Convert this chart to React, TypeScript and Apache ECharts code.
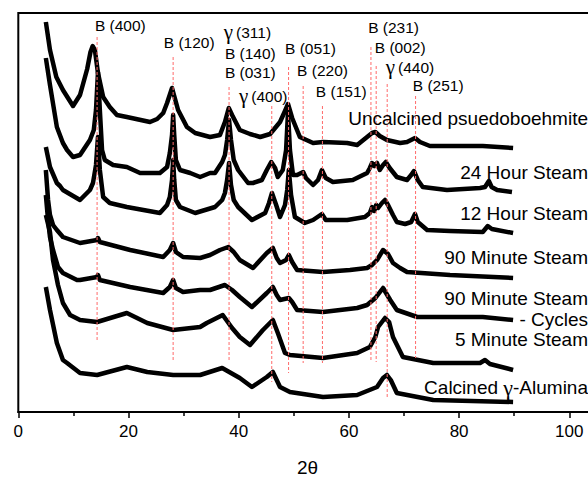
import React, { useEffect, useRef } from 'react';
import * as echarts from 'echarts';

// x: 2θ (degrees), y: intensity (arbitrary units, offset traces)
const uncalcined: [number, number][] = [
  [5.0, 390], [5.75, 362], [6.9, 335], [8.1, 322], [9.93, 306], [11.2, 317], [12.5, 343], [13.1, 360],
  [13.5, 366], [13.9, 362], [14.46, 339], [15.4, 315], [16.6, 305], [17.9, 297], [19.7, 295], [23.9, 290],
  [25.2, 293], [26.3, 299], [27.0, 309], [27.9, 324], [29.0, 302], [30.6, 285], [32.1, 279], [34.8, 275],
  [36.6, 277], [37.5, 290], [38.2, 304], [38.8, 297], [40.2, 282], [42.05, 278], [43.9, 275], [45.7, 278],
  [47.5, 290], [48.4, 301], [48.95, 308], [49.7, 294], [51.1, 275], [53.5, 269], [55.3, 270], [59.7, 269],
  [61.5, 267], [63.3, 275], [64.2, 279], [64.8, 280], [65.6, 276], [66.9, 272], [69.3, 269], [70.55, 270],
  [72.0, 274], [72.9, 270], [74.7, 266], [78.35, 266], [84.3, 266], [89.8, 264],
];
const steam24h: [number, number][] = [
  [5.0, 354], [5.75, 327], [7.0, 285], [8.1, 269], [8.85, 262], [9.93, 255], [11.2, 257], [13.0, 272],
  [13.7, 282], [14.1, 302], [14.46, 340], [14.8, 302], [15.2, 262], [15.7, 252], [17.2, 247], [19.7, 245],
  [22.1, 239], [25.7, 239], [27.0, 245], [27.5, 259], [27.9, 277], [28.1, 297], [28.3, 277], [28.6, 252],
  [29.35, 242], [31.2, 239], [33.0, 235], [34.8, 239], [35.7, 239], [37.0, 250], [37.5, 257], [37.9, 272],
  [38.25, 292], [38.6, 272], [39.1, 252], [39.9, 242], [41.7, 229], [42.6, 229], [44.2, 232], [45.1, 242],
  [45.9, 250], [46.6, 244], [47.1, 235], [48.0, 242], [48.6, 262], [48.95, 300], [49.3, 262], [49.85, 237],
  [50.6, 237], [51.7, 240], [52.2, 234], [53.5, 227], [54.4, 232], [55.1, 242], [55.8, 234], [57.1, 230],
  [60.7, 232], [63.3, 239], [63.8, 244], [64.2, 249], [64.6, 246], [65.1, 249], [65.6, 242], [66.2, 247],
  [66.7, 250], [67.4, 244], [68.7, 235], [70.55, 232], [71.3, 237], [71.8, 241], [72.5, 232], [73.4, 225],
  [77.8, 222], [83.8, 224], [84.7, 225], [85.4, 231], [85.9, 225], [86.9, 222], [89.6, 220],
];
const steam12h: [number, number][] = [
  [5.0, 265], [5.75, 245], [7.0, 229], [7.57, 226], [8.1, 222], [11.2, 212], [13.0, 222], [13.55, 229],
  [14.1, 247], [14.46, 275], [14.8, 242], [15.4, 215], [16.6, 209], [19.7, 205], [25.7, 199], [27.0, 207],
  [27.5, 215], [27.9, 232], [28.1, 252], [28.3, 232], [28.6, 212], [29.35, 205], [32.1, 199], [35.7, 205],
  [37.0, 212], [37.5, 219], [37.9, 232], [38.25, 249], [38.6, 227], [39.1, 212], [39.9, 205], [42.4, 192],
  [44.8, 199], [45.5, 209], [46.04, 219], [46.8, 207], [47.5, 195], [48.4, 207], [48.8, 222], [49.1, 242],
  [49.5, 217], [50.2, 195], [52.0, 189], [53.5, 192], [55.1, 198], [55.8, 192], [59.7, 192], [62.9, 195],
  [63.8, 199], [64.2, 205], [64.6, 201], [64.95, 207], [65.3, 204], [66.0, 209], [66.55, 212], [67.1, 207],
  [68.0, 197], [68.7, 190], [70.2, 188], [71.3, 190], [72.0, 198], [72.5, 190], [74.2, 182], [78.35, 181],
  [84.3, 180], [85.2, 186], [85.95, 183], [89.8, 179],
];
const steam90min: [number, number][] = [
  [5.0, 242], [5.4, 212], [5.75, 197], [6.3, 187], [7.0, 182], [8.1, 175], [11.2, 169], [14.3, 172],
  [14.46, 174], [14.8, 170], [20.3, 162], [26.3, 155], [27.5, 162], [28.1, 169], [28.6, 160], [29.9, 155],
  [33.0, 154], [34.8, 157], [36.6, 162], [38.1, 165], [39.1, 160], [40.2, 152], [42.6, 144], [45.1, 159],
  [46.2, 164], [46.9, 154], [47.5, 149], [48.6, 152], [49.1, 157], [49.7, 150], [50.6, 142], [55.3, 140],
  [60.2, 142], [63.3, 144], [64.2, 147], [65.1, 152], [66.2, 162], [67.1, 158], [68.0, 149], [69.3, 144],
  [70.55, 140], [78.35, 137], [89.8, 134],
];
const steam90minCycles: [number, number][] = [
  [5.0, 217], [5.4, 192], [5.75, 175], [6.3, 162], [7.2, 145], [8.1, 139], [10.65, 132], [11.2, 132],
  [14.3, 135], [14.46, 137], [14.8, 132], [20.3, 125], [26.3, 119], [27.5, 125], [28.1, 132], [28.6, 124],
  [29.9, 120], [33.0, 122], [34.8, 122], [37.5, 127], [38.8, 122], [40.2, 115], [42.4, 105], [45.1, 119],
  [46.2, 125], [46.9, 117], [47.5, 112], [49.1, 114], [49.7, 110], [50.6, 102], [55.3, 100], [61.5, 104],
  [63.3, 107], [64.8, 114], [66.2, 124], [67.5, 112], [68.7, 102], [72.4, 95], [84.3, 95], [89.8, 92],
];
const steam5min: [number, number][] = [
  [5.0, 197], [5.75, 180], [6.3, 152], [7.2, 127], [8.1, 109], [9.4, 97], [11.2, 92], [14.3, 90],
  [19.7, 99], [23.4, 89], [28.1, 82], [33.0, 85], [34.2, 89], [37.1, 97], [38.8, 84], [40.2, 75],
  [42.05, 67], [44.4, 82], [46.2, 92], [47.1, 79], [48.4, 59], [49.3, 57], [55.3, 54], [61.5, 59],
  [63.8, 65], [64.8, 75], [65.3, 85], [66.55, 94], [67.3, 90], [68.0, 75], [69.8, 55], [75.3, 49],
  [83.8, 49], [84.7, 52], [85.6, 48], [89.8, 42],
];
const calcinedAlumina: [number, number][] = [
  [5.0, 125], [5.75, 102], [7.0, 69], [8.1, 52], [8.85, 49], [11.2, 39], [14.3, 37], [19.7, 45],
  [23.4, 40], [28.1, 37], [33.0, 37], [37.0, 44], [40.2, 34], [42.4, 25], [45.1, 35], [46.2, 40],
  [47.5, 25], [49.3, 20], [55.3, 15], [61.5, 17], [65.1, 25], [66.2, 34], [66.9, 37], [67.6, 32],
  [68.7, 19], [75.3, 12], [89.8, 10],
];

const traces = [uncalcined, steam24h, steam12h, steam90min, steam90minCycles, steam5min, calcinedAlumina];
const traceNames = [
  'Uncalcined psuedoboehmite', '24 Hour Steam', '12 Hour Steam', '90 Minute Steam',
  '90 Minute Steam\n- Cycles', '5 Minute Steam', 'Calcined γ-Alumina',
];

// reference peak positions (2θ) and the vertical extent of their dashed marker lines
const refLinePos = [14.3, 28.1, 38.25, 46.0, 49.05, 51.7, 55.2, 64.0, 64.95, 66.95, 72.1];
const refLineTop = [375, 355, 325, 306, 345, 326, 306, 365, 346, 328, 316];
const refLineBottom = [72, 52, 50, 30, 39, 49, 49, 52, 50, 15, 54];

const peakLabels = ['B (400)', 'B (120)', 'γ (311)', 'B (140)', 'B (031)', 'γ (400)', 'B (051)', 'B (220)', 'B (151)', 'B (231)', 'B (002)', 'γ (440)', 'B (251)'];
const peakLabelX = [13.9, 26.4, 37.3, 37.5, 37.5, 40.05, 48.4, 50.6, 54.0, 63.5, 64.7, 66.7, 71.6];
const peakLabelY = [387, 370, 380, 359, 340, 316, 364, 342, 321, 385, 365, 345, 327];

const xTicks = { min: 0, max: 110, interval: 20 };

export default function App() {
  const ref = useRef<HTMLDivElement>(null);
  useEffect(() => {
    document.body.style.margin = '0';
    if (!ref.current) return;
    const chart = echarts.init(ref.current, null, { renderer: 'svg' });
    const sans = '"Liberation Sans", Arial, sans-serif';
    const serif = '"Liberation Serif", "Times New Roman", serif';

    const traceSeries = traces.map((d, i) => ({
      type: 'line',
      name: traceNames[i],
      data: d,
      showSymbol: false,
      silent: true,
      z: 3,
      lineStyle: { color: '#000', width: 4.5, join: 'round' },
    }));
    const refSeries = refLinePos.map((x, i) => ({
      type: 'line',
      data: [[x, refLineTop[i]], [x, refLineBottom[i]]],
      showSymbol: false,
      silent: true,
      z: 4,
      lineStyle: { color: '#ff6a6a', width: 1, type: [3, 2] },
    }));
    const labelSeries = {
      type: 'scatter',
      symbolSize: 0,
      silent: true,
      z: 5,
      itemStyle: { opacity: 1 },
      data: peakLabels.map((n, i) => ({ name: n, value: [peakLabelX[i], peakLabelY[i]] })),
      label: {
        show: true,
        opacity: 1,
        position: [0, 0],
        align: 'left',
        verticalAlign: 'middle',
        formatter: (p: any) => {
          const n: string = p.name;
          return n.startsWith('γ') ? `{g|γ}{n|${n.slice(2)}}` : `{n|${n}}`;
        },
        rich: {
          n: { fontSize: 15.5, fontFamily: sans, color: '#000' },
          g: { fontSize: 21, fontFamily: serif, color: '#000', padding: [0, 3, 0, 0] },
        },
      },
    };

    const nameY = [118, 172, 213, 257, 298, 339.5, 387];
    const nameGraphics: any[] = [];
    traceNames.forEach((n, i) => {
      const lines = n.split('\n');
      lines.forEach((ln, k) => {
        const hasG = ln.includes('γ');
        nameGraphics.push({
          type: 'text',
          x: 588,
          y: k === 0 ? nameY[i] : 319.5,
          silent: true,
          z: 10,
          style: {
            text: hasG ? ln.replace('γ', '{g|γ}') : ln,
            fontSize: 19,
            lineHeight: 14,
            fontFamily: sans,
            fill: '#000',
            align: 'right',
            verticalAlign: 'middle',
            rich: hasG ? { g: { fontSize: 22, lineHeight: 14, fontFamily: serif, fill: '#000' } } : undefined,
          },
        });
      });
    });

    chart.setOption({
      animation: false,
      grid: {
        left: 18.3, top: 13, width: 5.51 * xTicks.max, height: 399,
        outerBoundsMode: 'none', containLabel: false,
        show: true, borderColor: '#000', borderWidth: 2, backgroundColor: 'transparent',
      },
      xAxis: {
        type: 'value',
        min: xTicks.min,
        max: xTicks.max,
        interval: xTicks.interval,
        axisLine: { show: true, onZero: false, lineStyle: { color: '#000', width: 2 } },
        axisTick: { show: true, length: 6, lineStyle: { color: '#000', width: 1.5 } },
        minorTick: { show: true, splitNumber: 2, length: 4, lineStyle: { color: '#000', width: 1.5 } },
        splitLine: { show: false },
        axisLabel: { color: '#000', fontSize: 17, fontFamily: sans, margin: 11, showMaxLabel: false },
      },
      yAxis: { type: 'value', min: 0, max: 399, show: false },
      graphic: [
        ...nameGraphics,
        {
          type: 'text', x: 307.5, y: 467.5, silent: true,
          style: { text: '2θ', fontSize: 19, fontFamily: sans, fill: '#000', align: 'center', verticalAlign: 'middle' },
        },
      ],
      series: [...traceSeries, ...refSeries, labelSeries],
    });
    return () => chart.dispose();
  }, []);
  return <div ref={ref} style={{ width: 588, height: 477 }} />;
}
